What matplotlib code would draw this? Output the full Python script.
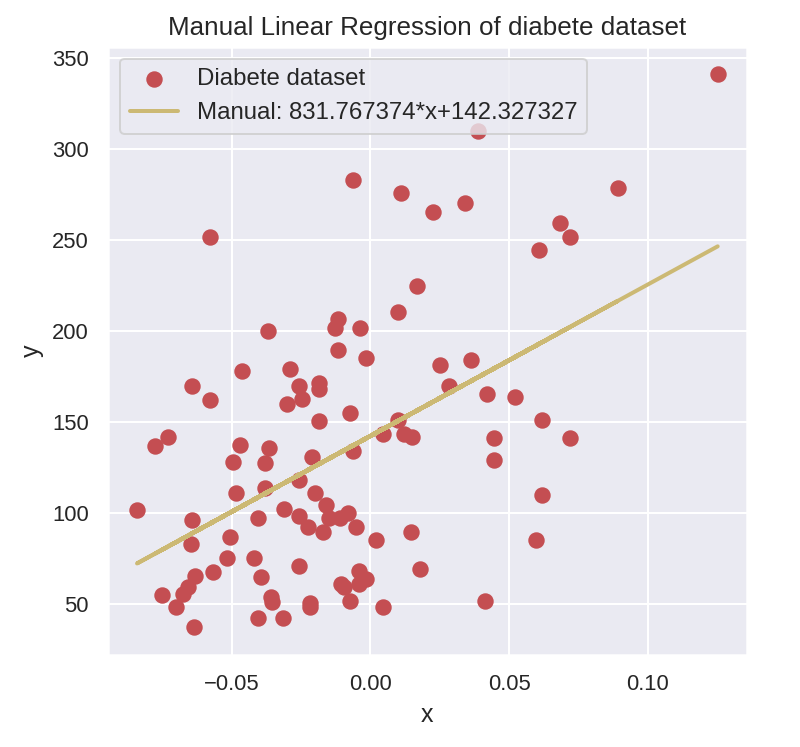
import numpy as np
import matplotlib
matplotlib.use("Agg")
import matplotlib.pyplot as plt
import seaborn as sns

# ---- data ----
x_vals = [0.1252, 0.0389, 0.0891, -0.0062, 0.0112, 0.0340, 0.0227, 0.0684, 0.0718, -0.0578,
          0.0607, 0.0167, 0.0100, -0.0368, -0.0117, -0.0129, -0.0039, -0.0117, -0.0016, 0.0250,
          0.0362, -0.0462, -0.0290, -0.0644, -0.0256, -0.0184, -0.0184, 0.0284, -0.0246, -0.0578,
          -0.0299, 0.0422, 0.0522, -0.0072, -0.0184, 0.0098, 0.0617, 0.0044, 0.0122, 0.0149,
          -0.0729, -0.0775, -0.0470, -0.0367, -0.0062, 0.0446, 0.0718, -0.0496, -0.0379, -0.0211,
          0.0446, -0.0256, -0.0484, -0.0380, -0.0200, 0.0617, -0.0160, -0.0841, -0.0313, -0.0082,
          -0.0108, -0.0150, -0.0256, -0.0644, -0.0406, -0.0226, -0.0050, -0.0172, 0.0145, 0.0022,
          0.0596, -0.0506, -0.0645, -0.0518, -0.0418, 0.0178, -0.0256, -0.0568, -0.0395, -0.0633,
          -0.0040, -0.0015, -0.0040, -0.0105, -0.0094, -0.0658, -0.0677, -0.0751, -0.0357, -0.0355,
          -0.0218, -0.0218, -0.0073, 0.0412, -0.0702, 0.0044, -0.0406, -0.0315, -0.0634]
y_vals = [340.9, 309.6, 278.5, 282.7, 275.8, 270.2, 265.1, 259.3, 251.5, 251.5,
          244.7, 224.5, 210.4, 200.2, 206.4, 201.6, 201.8, 189.6, 184.9, 181.5,
          184.0, 178.2, 179.1, 169.8, 170.0, 171.5, 168.2, 170.0, 162.9, 162.2,
          159.7, 165.5, 163.7, 154.7, 150.5, 150.9, 151.3, 143.3, 143.6, 141.8,
          142.0, 136.9, 137.5, 135.5, 134.0, 141.3, 141.3, 127.8, 127.4, 131.0,
          129.1, 118.2, 110.9, 113.7, 110.9, 110.0, 104.5, 101.5, 102.2, 100.0,
          97.3, 97.5, 98.2, 96.4, 97.1, 92.2, 92.2, 89.8, 89.7, 85.4,
          85.5, 86.9, 82.9, 75.1, 75.1, 69.5, 71.0, 67.7, 65.1, 65.3,
          68.2, 64.1, 60.9, 61.1, 59.3, 59.5, 55.5, 55.1, 53.7, 51.2,
          50.9, 48.6, 51.7, 51.9, 48.4, 48.4, 42.3, 42.3, 37.3]

slope = 831.767374
intercept = 142.327327

title = "Manual Linear Regression of diabete dataset"
scatter_label = "Diabete dataset"
line_label = "Manual: %f*x+%f" % (slope, intercept)

# ---- style ----
sns.set_theme(style="darkgrid", context="notebook", color_codes=True)
plt.rcParams['font.family'] = ['Liberation Sans', 'DejaVu Sans']

x = np.array(x_vals)
y = np.array(y_vals)
pred = slope * x + intercept

DPI = 144
fig = plt.figure(figsize=(800 / DPI, 747 / DPI), dpi=DPI)
ax = fig.add_axes([0.135, 0.1232, 0.7984, 0.8143])

ax.scatter(x, y, color='r', s=52, label=scatter_label)
ax.plot(x, pred, color='y', linewidth=2, label=line_label)

ax.set_title(title, fontsize=13)
ax.set_xlabel("x", fontsize=12.5)
ax.set_ylabel("y", fontsize=12.5)
ax.tick_params(labelsize=11)
ax.legend(loc='upper left', fontsize=12)

fig.savefig("out.png", dpi=DPI)
